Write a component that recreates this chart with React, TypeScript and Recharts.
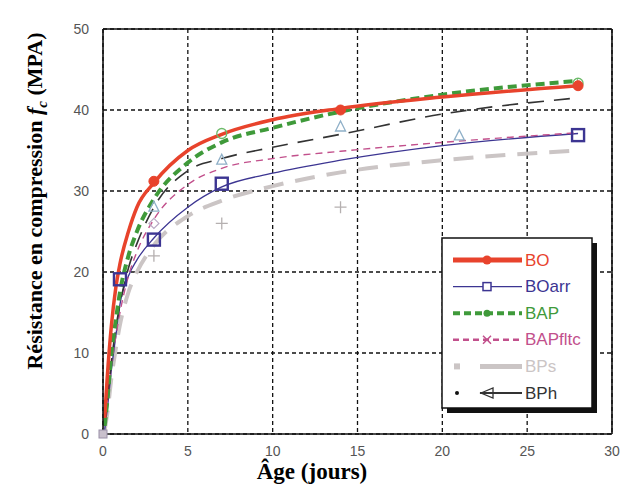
import { CartesianGrid, ComposedChart, Line, Scatter, XAxis, YAxis } from 'recharts'

const ages = [0.1, 0.25, 0.5, 0.75, 1, 1.5, 2, 3, 5, 7, 10, 14, 20, 28]

const boCurve = [2, 7, 13.5, 18, 21, 25, 28, 31, 35, 37, 38.8, 40.2, 41.6, 43]
const boarrCurve = [0.5, 3, 8, 12, 16, 19.5, 21.5, 24.2, 28, 30.5, 32.2, 33.8, 35.6, 37.1]
const bapCurve = [1, 4, 10, 14, 17.5, 22, 25, 29, 33.5, 36, 37.8, 39.8, 41.9, 43.6]
const bapfltcCurve = [1, 4, 8.5, 12, 15, 19.5, 22.5, 26.5, 30.8, 32.8, 34, 34.9, 36, 37.2]
const bpsCurve = [0.5, 2.5, 7, 10.5, 13.5, 17.5, 20, 23.3, 26.9, 28.8, 30.6, 32.3, 33.8, 35]
const bphCurve = [1, 4, 9, 13, 16, 20.5, 23.5, 28, 32.5, 34, 35.4, 37, 39.5, 41.5]

// measured points
const boPts = [{ t: 3, v: 31.2 }, { t: 14, v: 40 }, { t: 28, v: 43 }]
const boarrPts = [{ t: 0, v: 0 }, { t: 1, v: 19.1 }, { t: 3, v: 24 }, { t: 7, v: 30.9 }, { t: 28, v: 36.9 }]
const bapPts = [{ t: 7, v: 37.1 }, { t: 28, v: 43.3 }]
const bapfltcPts = [{ t: 3, v: 26 }]
const bpsPts = [{ t: 3, v: 22 }, { t: 7, v: 26 }, { t: 14, v: 28 }]
const bphPts = [{ t: 3, v: 28 }, { t: 7, v: 33.8 }, { t: 14, v: 37.9 }, { t: 21, v: 36.8 }]

const xLabels = [0, 5, 10, 15, 20, 25, 30]
const yLabels = [0, 10, 20, 30, 40, 50]
const xMinor = [...Array(31).keys()]
const yMinor = [0, 2, 4, 6, 8, 10, 12, 14, 16, 18, 20, 22, 24, 26, 28, 30, 32, 34, 36, 38, 40, 42, 44, 46, 48, 50]

const RED = '#e8432c'
const NAVY = '#3c3592'
const GREEN = '#3f9a3a'
const PINK = '#c2508c'
const LIGHT = '#cbc5c5'
const DARK = '#333333'

const rows = ages.map((t, i) => ({
  t,
  bo: boCurve[i],
  boarr: boarrCurve[i],
  bap: bapCurve[i],
  bapfltc: bapfltcCurve[i],
  bps: bpsCurve[i],
  bph: bphCurve[i],
}))

const tickFont = { fontFamily: 'Liberation Sans, Arial', fontSize: 14, fill: '#555' }
const thin = 0.01

const Dot = ({ cx, cy }: any) => <circle cx={cx} cy={cy} r={5} fill={RED} stroke={RED} />
const Square = ({ cx, cy, payload }: any) =>
  payload && payload.t === 0
    ? <rect x={cx - 4} y={cy - 4} width={8} height={8} fill="#c9c0cc" stroke="#9a90a8" strokeWidth={1} />
    : <rect x={cx - 6} y={cy - 6} width={12} height={12} fill="none" stroke={NAVY} strokeWidth={2.4} />
const Ring = ({ cx, cy }: any) => <circle cx={cx} cy={cy} r={5} fill="none" stroke="#6dbb6a" strokeWidth={1.3} />
const Diamond = ({ cx, cy }: any) => <path d={`M${cx},${cy - 5}L${cx + 5},${cy}L${cx},${cy + 5}L${cx - 5},${cy}Z`} fill="none" stroke="#b9a8c4" strokeWidth={1.2} />
const Plus = ({ cx, cy }: any) => <path d={`M${cx - 6},${cy}H${cx + 6}M${cx},${cy - 6}V${cy + 6}`} stroke="#b5b0b0" strokeWidth={1.3} />
const Tri = ({ cx, cy }: any) => <path d={`M${cx},${cy - 6}L${cx + 5},${cy + 4}L${cx - 5},${cy + 4}Z`} fill="none" stroke="#8fb0c8" strokeWidth={1.3} />

function Legend() {
  const y0 = 260
  const gap = 26.6
  const x1 = 453
  const x2 = 522
  const tx = 525
  const txt = (i: number, label: string, color: string) => (
    <text x={tx} y={y0 + i * gap} dominantBaseline="central" fontFamily="Liberation Sans, Arial" fontSize={17} fill={color}>{label}</text>
  )
  return (
    <g>
      <rect x={447} y={243} width={150} height={170} fill="#111" />
      <rect x={442} y={238} width={150} height={170} fill="#fff" stroke="#111" strokeWidth={1.5} />
      <line x1={x1} x2={x2} y1={y0} y2={y0} stroke={RED} strokeWidth={5} />
      <circle cx={487} cy={y0} r={4.5} fill={RED} />
      {txt(0, 'BO', RED)}
      <line x1={x1} x2={x2} y1={y0 + gap} y2={y0 + gap} stroke={NAVY} strokeWidth={1.3} />
      <rect x={483} y={y0 + gap - 4} width={8} height={8} fill="#fff" stroke={NAVY} strokeWidth={1.5} />
      {txt(1, 'BOarr', NAVY)}
      <line x1={x1} x2={x2} y1={y0 + 2 * gap} y2={y0 + 2 * gap} stroke={GREEN} strokeWidth={4} strokeDasharray="7 4" />
      <circle cx={487} cy={y0 + 2 * gap} r={3.5} fill={GREEN} />
      {txt(2, 'BAP', GREEN)}
      <line x1={x1} x2={x2} y1={y0 + 3 * gap} y2={y0 + 3 * gap} stroke={PINK} strokeWidth={2.5} strokeDasharray="6 4" />
      <path d={`M483,${y0 + 3 * gap - 4}L491,${y0 + 3 * gap + 4}M491,${y0 + 3 * gap - 4}L483,${y0 + 3 * gap + 4}`} stroke={PINK} strokeWidth={1.5} />
      {txt(3, 'BAPfltc', PINK)}
      <rect x={454} y={y0 + 4 * gap - 3} width={6} height={6} fill={LIGHT} />
      <line x1={480} x2={x2} y1={y0 + 4 * gap} y2={y0 + 4 * gap} stroke={LIGHT} strokeWidth={5} />
      {txt(4, 'BPs', LIGHT)}
      <circle cx={457} cy={y0 + 5 * gap} r={2} fill="#111" />
      <line x1={480} x2={x2} y1={y0 + 5 * gap} y2={y0 + 5 * gap} stroke={DARK} strokeWidth={2} />
      <path d={`M481,${y0 + 5 * gap}L493,${y0 + 5 * gap - 5}L493,${y0 + 5 * gap + 5}Z`} fill="none" stroke={DARK} strokeWidth={1.3} />
      {txt(5, 'BPh', DARK)}
    </g>
  )
}

export default function App() {
  return (
    <div style={{ position: 'absolute', left: 0, top: 0, width: 622, height: 497, background: '#fff' }}>
      <ComposedChart width={622} height={497} data={rows} margin={{ top: 29, right: 10, bottom: 33, left: 43 }}>
        <CartesianGrid xAxisId="x" yAxisId="y" stroke="#111" strokeWidth={1.3} strokeDasharray="4 3" />
        <XAxis xAxisId="x" dataKey="t" type="number" domain={[0, 30]} ticks={xLabels} tickLine={false} axisLine={false} tickSize={0} tickMargin={12} tick={tickFont} height={30} />
        <XAxis xAxisId="xm" dataKey="t" type="number" domain={[0, 30]} ticks={xMinor} mirror height={thin} tick={false} tickSize={4} tickLine={{ stroke: '#111' }} axisLine={{ stroke: '#111', strokeWidth: 1.6 }} />
        <XAxis xAxisId="xM" dataKey="t" type="number" domain={[0, 30]} ticks={xLabels} mirror height={thin} tick={false} tickSize={7} tickLine={{ stroke: '#111', strokeWidth: 2 }} axisLine={false} />
        <XAxis xAxisId="xtm" orientation="top" dataKey="t" type="number" domain={[0, 30]} ticks={xMinor} mirror height={thin} tick={false} tickSize={4} tickLine={{ stroke: '#111' }} axisLine={{ stroke: '#111', strokeWidth: 1.6 }} />
        <XAxis xAxisId="xtM" orientation="top" dataKey="t" type="number" domain={[0, 30]} ticks={xLabels} mirror height={thin} tick={false} tickSize={7} tickLine={{ stroke: '#111', strokeWidth: 2 }} axisLine={false} />
        <YAxis yAxisId="y" type="number" domain={[0, 50]} ticks={yLabels} tickLine={false} axisLine={false} tickSize={0} tickMargin={14} tick={tickFont} width={60} />
        <YAxis yAxisId="ym" type="number" domain={[0, 50]} ticks={yMinor} mirror width={thin} tick={false} tickSize={5} tickLine={{ stroke: '#111' }} axisLine={{ stroke: '#111', strokeWidth: 1.6 }} />
        <YAxis yAxisId="yM" type="number" domain={[0, 50]} ticks={yLabels} mirror width={thin} tick={false} tickSize={8} tickLine={{ stroke: '#111', strokeWidth: 2.5 }} axisLine={false} />
        <YAxis yAxisId="yrm" orientation="right" type="number" domain={[0, 50]} ticks={yMinor} mirror width={thin} tick={false} tickSize={5} tickLine={{ stroke: '#111' }} axisLine={{ stroke: '#111', strokeWidth: 1.6 }} />
        <YAxis yAxisId="yrM" orientation="right" type="number" domain={[0, 50]} ticks={yLabels} mirror width={thin} tick={false} tickSize={8} tickLine={{ stroke: '#111', strokeWidth: 2.5 }} axisLine={false} />

        <Line xAxisId="x" yAxisId="y" type="monotone" dataKey="bps" stroke={LIGHT} strokeWidth={4} strokeDasharray="20 12" dot={false} activeDot={false} isAnimationActive={false} />
        <Line xAxisId="x" yAxisId="y" type="monotone" dataKey="boarr" stroke={NAVY} strokeWidth={1.3} dot={false} activeDot={false} isAnimationActive={false} />
        <Line xAxisId="x" yAxisId="y" type="monotone" dataKey="bapfltc" stroke={PINK} strokeWidth={1.4} strokeDasharray="7 5" dot={false} activeDot={false} isAnimationActive={false} />
        <Line xAxisId="x" yAxisId="y" type="monotone" dataKey="bph" stroke={DARK} strokeWidth={1.6} strokeDasharray="16 10" dot={false} activeDot={false} isAnimationActive={false} />
        <Line xAxisId="x" yAxisId="y" type="monotone" dataKey="bap" stroke={GREEN} strokeWidth={4} strokeDasharray="9 5" dot={false} activeDot={false} isAnimationActive={false} />
        <Line xAxisId="x" yAxisId="y" type="monotone" dataKey="bo" stroke={RED} strokeWidth={3.5} dot={false} activeDot={false} isAnimationActive={false} />

        <Scatter xAxisId="x" yAxisId="y" data={bpsPts} dataKey="v" shape={<Plus />} isAnimationActive={false} />
        <Scatter xAxisId="x" yAxisId="y" data={bphPts} dataKey="v" shape={<Tri />} isAnimationActive={false} />
        <Scatter xAxisId="x" yAxisId="y" data={bapfltcPts} dataKey="v" shape={<Diamond />} isAnimationActive={false} />
        <Scatter xAxisId="x" yAxisId="y" data={bapPts} dataKey="v" shape={<Ring />} isAnimationActive={false} />
        <Scatter xAxisId="x" yAxisId="y" data={boarrPts} dataKey="v" shape={<Square />} isAnimationActive={false} />
        <Scatter xAxisId="x" yAxisId="y" data={boPts} dataKey="v" shape={<Dot />} isAnimationActive={false} />
      </ComposedChart>
      <svg width={622} height={497} style={{ position: 'absolute', left: 0, top: 0, pointerEvents: 'none' }}>
        <Legend />
        <text transform="translate(42,201) rotate(-90)" textAnchor="middle" fontFamily="Liberation Serif, Times New Roman" fontWeight="bold" fontSize={22} fill="#000">
          Résistance en compression <tspan fontStyle="italic">f</tspan><tspan fontStyle="italic" fontSize={15} dy={5}>c</tspan><tspan dy={-5}> (MPA)</tspan>
        </text>
        <text x={312} y={479} textAnchor="middle" fontFamily="Liberation Serif, Times New Roman" fontWeight="bold" fontSize={23} fill="#000">Âge (jours)</text>
      </svg>
    </div>
  )
}
